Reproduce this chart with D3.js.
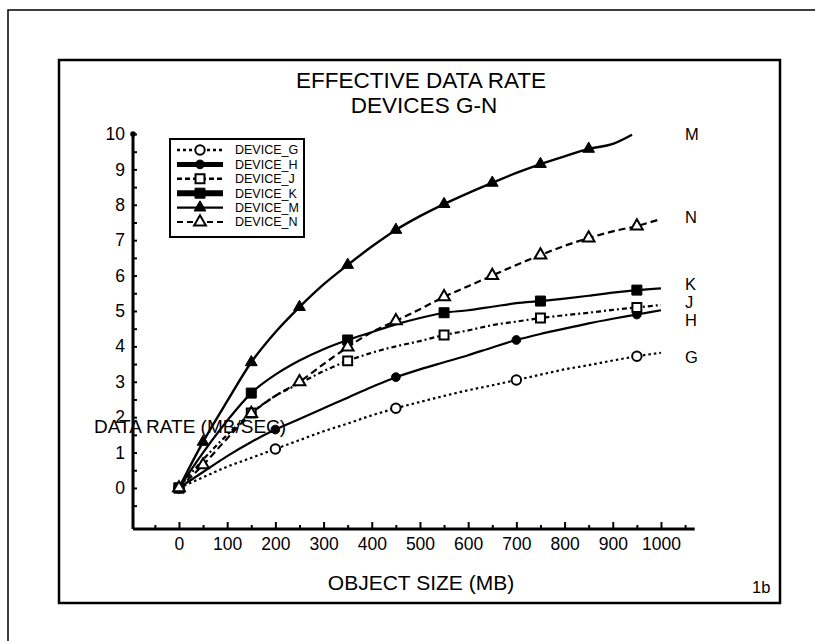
<!DOCTYPE html>
<html>
<head>
<meta charset="utf-8">
<script src="https://cdn.jsdelivr.net/npm/d3@7/dist/d3.min.js"></script>
<style>
  html, body { margin: 0; padding: 0; background: #fff; }
  svg { display: block; font-family: "Liberation Sans", Arial, sans-serif; }
</style>
</head>
<body>
<svg id="chart" width="815" height="641"></svg>
<script>
// ---- data -------------------------------------------------------------
const deviceNames = ["DEVICE_G", "DEVICE_H", "DEVICE_J", "DEVICE_K", "DEVICE_M", "DEVICE_N"];
const shortNames  = ["G", "H", "J", "K", "M", "N"];

// object sizes (MB) sampled for each curve
const sizes     = [0, 50, 100, 150, 200, 250, 300, 350, 400, 450, 500, 550, 600, 650, 700, 750, 800, 850, 900, 950, 1000];
const sizesM    = [0, 50, 100, 150, 200, 250, 300, 350, 400, 450, 500, 550, 600, 650, 700, 750, 800, 850, 900, 940];

// data rate (MB/SEC)
const rateG = [0, 0.3, 0.6, 0.85, 1.1, 1.35, 1.6, 1.82, 2.05, 2.25, 2.43, 2.6, 2.76, 2.9, 3.05, 3.2, 3.35, 3.47, 3.6, 3.72, 3.82];
const rateH = [0, 0.45, 0.9, 1.3, 1.65, 1.95, 2.25, 2.55, 2.85, 3.13, 3.35, 3.55, 3.75, 3.97, 4.18, 4.35, 4.5, 4.65, 4.78, 4.9, 5.02];
const rateJ = [0, 0.8, 1.5, 2.12, 2.6, 2.95, 3.3, 3.59, 3.82, 4.0, 4.15, 4.32, 4.45, 4.6, 4.7, 4.8, 4.88, 4.95, 5.03, 5.1, 5.17];
const rateK = [0, 1.0, 1.9, 2.68, 3.2, 3.6, 3.92, 4.18, 4.4, 4.62, 4.8, 4.95, 5.02, 5.12, 5.22, 5.28, 5.35, 5.43, 5.52, 5.59, 5.64];
const rateM = [0, 1.3, 2.45, 3.55, 4.4, 5.11, 5.75, 6.3, 6.82, 7.29, 7.68, 8.02, 8.33, 8.62, 8.9, 9.15, 9.37, 9.58, 9.72, 9.98];
const rateN = [0, 0.65, 1.4, 2.1, 2.6, 3.0, 3.5, 3.98, 4.4, 4.72, 5.05, 5.4, 5.7, 6.0, 6.3, 6.58, 6.84, 7.06, 7.25, 7.4, 7.6];

// sizes at which a symbol is plotted
const markG = [0, 200, 450, 700, 950];
const markH = [0, 200, 450, 700, 950];
const markJ = [0, 150, 350, 550, 750, 950];
const markK = [0, 150, 350, 550, 750, 950];
const markM = [0, 50, 150, 250, 350, 450, 550, 650, 750, 850];
const markN = [0, 50, 150, 250, 350, 450, 550, 650, 750, 850, 950];

// end-of-curve letters and the rate level they sit at
const endLabelRates = [3.7, 4.75, 5.25, 5.75, 10.0, 7.65];

// axis ticks
const xTickValues  = [0, 100, 200, 300, 400, 500, 600, 700, 800, 900, 1000];
const xMinorValues = [-50, 50, 150, 250, 350, 450, 550, 650, 750, 850, 950, 1050];
const yTickValues  = [0, 1, 2, 3, 4, 5, 6, 7, 8, 9, 10];
const yMinorValues = [-0.5, 0.5, 1.5, 2.5, 3.5, 4.5, 5.5, 6.5, 7.5, 8.5, 9.5];

// ---- drawing ----------------------------------------------------------
const svg = d3.select("#chart");
const FONT = "Liberation Sans, Arial, sans-serif";

svg.append("rect").attr("width", 815).attr("height", 641).attr("fill", "#fff");

// page frame and chart frame
svg.append("path").attr("d", "M8,641 V10 H815")
  .attr("fill", "none").attr("stroke", "#000").attr("stroke-width", 1.5);
svg.append("rect").attr("x", 59).attr("y", 60).attr("width", 721).attr("height", 543)
  .attr("fill", "none").attr("stroke", "#000").attr("stroke-width", 2.5);

// titles
svg.append("text").attr("x", 421).attr("y", 88).attr("text-anchor", "middle")
  .attr("font-size", 22.5).text("EFFECTIVE DATA RATE");
svg.append("text").attr("x", 424).attr("y", 113).attr("text-anchor", "middle")
  .attr("font-size", 22.5).text("DEVICES G-N");

// scales
const x = d3.scaleLinear().domain([-95.4, 1070]).range([133, 694.7]);
const y = d3.scaleLinear().domain([-1.16, 10]).range([529, 134]);

// x axis: minor and major ticks pointing up, labels under the line
const gx = svg.append("g").attr("transform", `translate(0,${y.range()[0]})`);
gx.append("g").call(d3.axisBottom(x).tickValues(xMinorValues).tickSizeInner(-4).tickSizeOuter(0).tickFormat(""))
  .call(g => g.select(".domain").remove());
gx.append("g").call(d3.axisBottom(x).tickValues(xTickValues).tickSizeInner(-7).tickSizeOuter(0)
    .tickPadding(9).tickFormat(d3.format("d")))
  .call(g => g.select(".domain").remove());
gx.selectAll("line").attr("stroke", "#000").attr("stroke-width", 2);
gx.selectAll("text").attr("font-family", FONT).attr("font-size", 17.5).attr("fill", "#000");
gx.append("line").attr("x1", x.range()[0]).attr("x2", x.range()[1])
  .attr("stroke", "#000").attr("stroke-width", 3);

// y axis: small ticks pointing right, labels to the left
const gy = svg.append("g").attr("transform", `translate(${x.range()[0]},0)`);
gy.append("g").call(d3.axisLeft(y).tickValues(yMinorValues).tickSizeInner(-4).tickSizeOuter(0).tickFormat(""))
  .call(g => g.select(".domain").remove());
gy.append("g").call(d3.axisLeft(y).tickValues(yTickValues).tickSizeInner(-4).tickSizeOuter(0)
    .tickPadding(8).tickFormat(d3.format("d")))
  .call(g => g.select(".domain").remove());
gy.selectAll("line").attr("stroke", "#000").attr("stroke-width", 2);
gy.selectAll("text").attr("font-family", FONT).attr("font-size", 17.5).attr("fill", "#000");
gy.append("line").attr("y1", y.range()[0]).attr("y2", y.range()[1])
  .attr("stroke", "#000").attr("stroke-width", 3);
gy.append("circle").attr("cy", y(10)).attr("r", 2.8).attr("fill", "#000");

// axis titles
svg.append("text").attr("x", 421).attr("y", 590).attr("text-anchor", "middle")
  .attr("font-size", 21).text("OBJECT SIZE (MB)");
svg.append("text").attr("x", 752).attr("y", 593)
  .attr("font-size", 16.5).text("1b");

// series definitions
const styles = {
  G: { dash: "2.5,3",     width: 2.2, symbol: d3.symbolCircle,   size: 70,  open: true,  legendWidth: 2.5, legendDash: "3,3" },
  H: { dash: null,        width: 2.2, symbol: d3.symbolCircle,   size: 60,  open: false, legendWidth: 5,   legendDash: null },
  J: { dash: "5,3,2,3",   width: 2.2, symbol: d3.symbolSquare,   size: 80,  open: true,  legendWidth: 2.5, legendDash: "5,3" },
  K: { dash: null,        width: 2.2, symbol: d3.symbolSquare,   size: 100, open: false, legendWidth: 6,   legendDash: null },
  M: { dash: null,        width: 2.4, symbol: d3.symbolTriangle, size: 60,  open: false, legendWidth: 2.2, legendDash: null },
  N: { dash: "7,4",       width: 2.2, symbol: d3.symbolTriangle, size: 60,  open: true,  legendWidth: 2.2, legendDash: "6,4" }
};

const series = [
  { key: "G", xs: sizes,  ys: rateG, marks: markG },
  { key: "H", xs: sizes,  ys: rateH, marks: markH },
  { key: "J", xs: sizes,  ys: rateJ, marks: markJ },
  { key: "K", xs: sizes,  ys: rateK, marks: markK },
  { key: "M", xs: sizesM, ys: rateM, marks: markM },
  { key: "N", xs: sizes,  ys: rateN, marks: markN }
];

const line = d3.line().x(d => x(d[0])).y(d => y(d[1])).curve(d3.curveMonotoneX);
const plot = svg.append("g");

series.forEach(s => {
  const st = styles[s.key];
  const pts = s.xs.map((v, i) => [v, s.ys[i]]);
  plot.append("path").datum(pts).attr("d", line)
    .attr("fill", "none").attr("stroke", "#000").attr("stroke-width", st.width)
    .attr("stroke-dasharray", st.dash);
});

series.forEach(s => {
  const st = styles[s.key];
  const pts = s.xs.map((v, i) => [v, s.ys[i]]).filter(p => s.marks.includes(p[0]));
  plot.selectAll(null).data(pts).join("path")
    .attr("transform", d => `translate(${x(d[0])},${y(d[1])})`)
    .attr("d", d3.symbol(st.symbol, st.size))
    .attr("fill", st.open ? "#fff" : "#000")
    .attr("stroke", "#000").attr("stroke-width", st.open ? 2 : 1);
});

// letters at the curve ends
svg.append("g").selectAll("text").data(shortNames).join("text")
  .attr("x", 685).attr("y", (d, i) => y(endLabelRates[i])).attr("dy", "0.35em")
  .attr("font-size", 16.5).text(d => d);

// y-axis title, written across the plot
svg.append("text").attr("x", 94).attr("y", 433)
  .attr("font-size", 19).text("DATA RATE (MB/SEC)");

// legend
const lg = svg.append("g");
lg.append("rect").attr("x", 170).attr("y", 139).attr("width", 134).attr("height", 98)
  .attr("fill", "#fff").attr("stroke", "#000").attr("stroke-width", 2);
shortNames.forEach((k, i) => {
  const st = styles[k];
  const ry = 150 + i * 14.4;
  lg.append("line").attr("x1", 177).attr("x2", 223).attr("y1", ry).attr("y2", ry)
    .attr("stroke", "#000").attr("stroke-width", st.legendWidth).attr("stroke-dasharray", st.legendDash);
  lg.append("path").attr("transform", `translate(200,${ry})`)
    .attr("d", d3.symbol(st.symbol, st.size))
    .attr("fill", st.open ? "#fff" : "#000")
    .attr("stroke", "#000").attr("stroke-width", st.open ? 2 : 1);
  lg.append("text").attr("x", 235).attr("y", ry).attr("dy", "0.35em")
    .attr("font-size", 12.5).text(deviceNames[i]);
});
</script>
</body>
</html>
